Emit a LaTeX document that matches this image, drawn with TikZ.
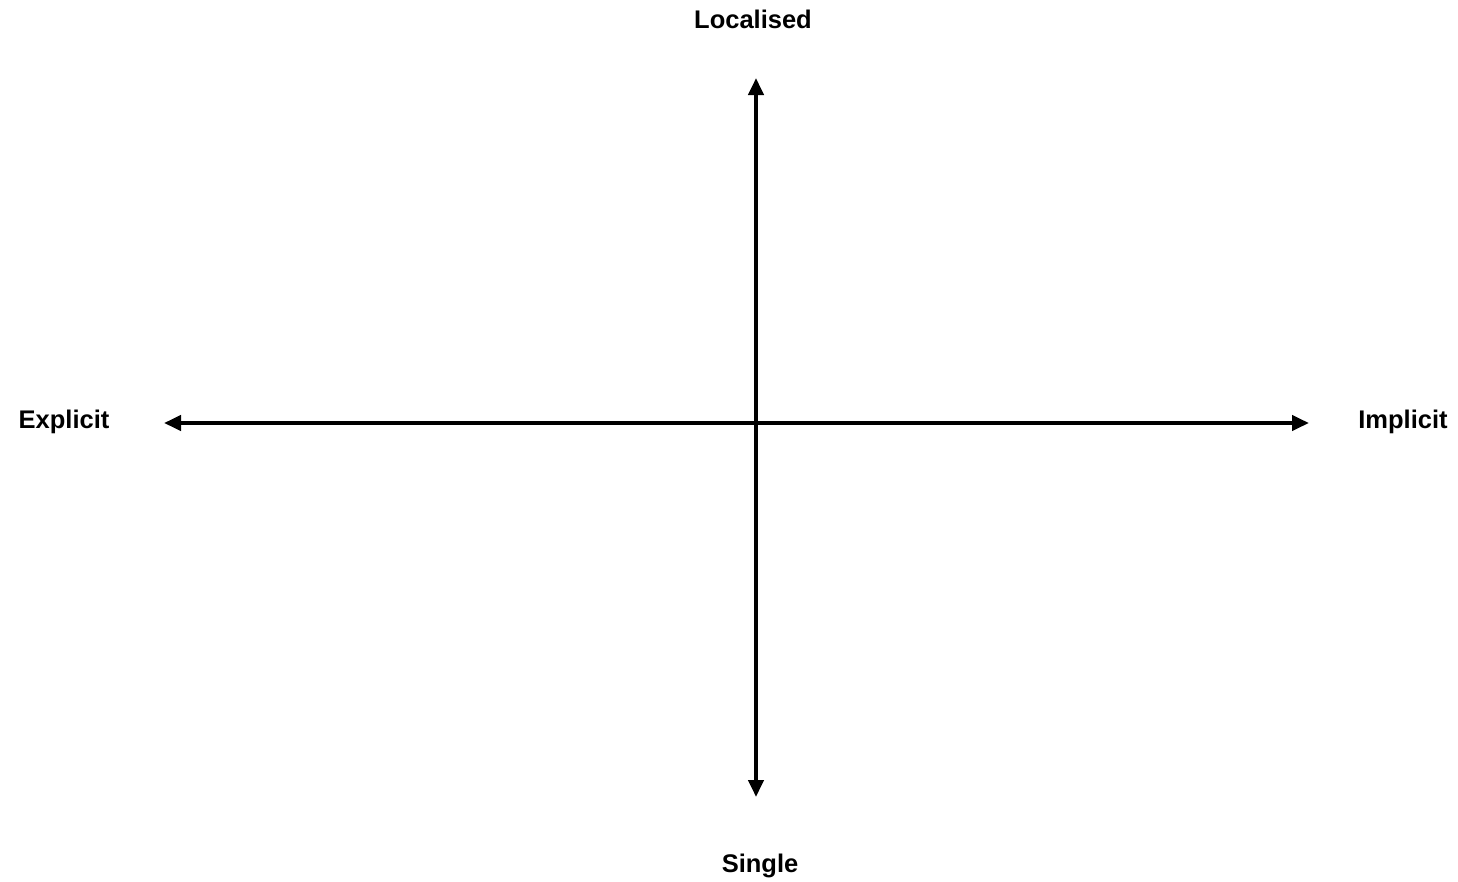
\documentclass[tikz,border=0pt]{standalone}
\usepackage{fontspec}
\setmainfont{Liberation Sans}
\usetikzlibrary{arrows.meta}
\tikzset{
  axis/.style={line width=4pt, {Triangle[length=17pt,width=15pt]}-{Triangle[length=17pt,width=15pt]}},
  lbl/.style={font=\fontsize{25.5}{30}\selectfont\bfseries, anchor=base, inner sep=0pt}
}
\begin{document}
\begin{tikzpicture}[x=1pt,y=-1pt]
\useasboundingbox[fill=white] (0,0) rectangle (1458,881);
\coordinate (top) at (756,78);
\coordinate (bot) at (756,797);
\coordinate (left) at (164,423);
\coordinate (right) at (1309,423);
\draw[axis] (left) -- (right);
\draw[axis] (bot) -- (top);
\node[lbl] (loc) at (753,28) {Localised};
\node[lbl] (exp) at (64,428) {Explicit};
\node[lbl] (imp) at (1403,428) {Implicit};
\node[lbl] (sin) at (760,872) {Single};
\end{tikzpicture}
\end{document}
